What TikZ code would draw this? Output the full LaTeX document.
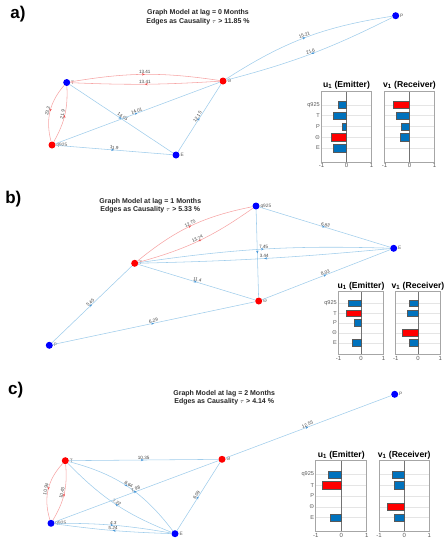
\documentclass[tikz,border=0pt]{standalone}
\usepackage{fontspec}
\setmainfont{Liberation Sans}
\usetikzlibrary{arrows.meta,decorations.markings}
\definecolor{eblue}{RGB}{160,205,235}
\definecolor{ered}{RGB}{246,165,165}
\definecolor{ablue}{RGB}{70,150,215}
\definecolor{ared}{RGB}{235,80,80}
\definecolor{nblue}{RGB}{0,0,255}
\definecolor{nred}{RGB}{255,0,0}
\definecolor{bblue}{RGB}{0,114,189}
\definecolor{bred}{RGB}{255,0,0}
\newcommand\mychart[7]{%
\begin{scope}[shift={(#1,-#2)}, x=#3pt, y=-#4pt]
 \foreach \k in {0,...,4} \draw[gridl] (-1,\k) -- (1,\k);
 \draw[zerol] (0,-#5) -- (0,4+#5);
 \foreach \k/\v/\c in {#7} \filldraw[draw=black!65, fill=\c, line width=0.35pt] (0,\k-0.34) rectangle (\v,\k+0.34);
 \draw[boxl] (-1,-#5) rectangle (1,4+#5);
 \foreach \t in {-1,0,1} \node[ticklab, anchor=north] at (\t,4+#5) {\t};
 \node[ctitle, anchor=south] at (0,-#5) {#6};
\end{scope}}
\newcommand\mycats[3]{%
\begin{scope}[shift={(#1,-#2)}, y=-#3pt]
 \foreach \k/\s in {0/q925,1/T,2/P,3/Θ,4/E} \node[catlab, anchor=east] at (0,\k) {\s};
\end{scope}}
\begin{document}
\begin{tikzpicture}[x=1pt,y=1pt,
  midarr/.style={postaction={decorate}, decoration={markings, mark=at position 0.5 with {\arrow[#1]{Stealth[length=2.8pt,width=2.4pt]}}}},
  be/.style={draw=eblue, line width=0.55pt, midarr=ablue},
  re/.style={draw=ered, line width=0.55pt, midarr=ared},
  elab/.style={font=\fontsize{4.6}{5}\selectfont, text=black!75, inner sep=0.5pt, sloped, above},
  nlab/.style={font=\fontsize{4.8}{5}\selectfont, text=black!65, inner sep=0.6pt},
  bn/.style={circle, fill=nblue, inner sep=0pt, minimum size=7pt},
  rn/.style={circle, fill=nred, inner sep=0pt, minimum size=7pt},
  ttl/.style={font=\bfseries\fontsize{7}{8.6}\selectfont, align=center, text=black!85},
  plab/.style={font=\bfseries\fontsize{17}{18}\selectfont},
  gridl/.style={draw=black!10, line width=0.3pt},
  zerol/.style={draw=black!55, line width=0.4pt},
  boxl/.style={draw=black!35, line width=0.5pt},
  ticklab/.style={font=\fontsize{6}{7}\selectfont, text=black!65, inner sep=1.5pt},
  catlab/.style={font=\fontsize{5.6}{6}\selectfont, text=black!65, inner sep=1.5pt},
  ctitle/.style={font=\bfseries\fontsize{8.6}{9}\selectfont, inner sep=1.5pt}]
\useasboundingbox (0,0) rectangle (445,-550);

% ---------------- panel a ----------------
\node[plab] (la) at (18,-14) {a)};
\node[ttl] (ta) at (198,-17.3) {Graph Model at lag = 0 Months\\Edges as Causality {\normalfont\fontsize{6}{7}\selectfont$\tau$} > 11.85 \%};
\node[bn, label={[nlab]right:T}] (aT) at (66.7,-82.5) {};
\node[rn, label={[nlab]right:Θ}] (aH) at (223,-81) {};
\node[rn, label={[nlab]right:q925}] (aQ) at (52,-145) {};
\node[bn, label={[nlab]right:E}] (aE) at (176,-155) {};
\node[bn, label={[nlab]right:P}] (aP) at (395.7,-15.7) {};
\draw[re] (aT) to[bend left=9] node[elab]{13.41} (aH);
\draw[re] (aH) to[bend left=3] node[elab]{13.41} (aT);
\draw[re] (aT) to[bend right=28] node[elab]{23.2} (aQ);
\draw[re] (aQ) to[bend right=16] node[elab]{21.9} (aT);
\draw[be] (aT) -- node[elab]{14.05} (aE);
\draw[be] (aQ) -- node[elab]{14.01} (aH);
\draw[be] (aQ) -- node[elab]{11.9} (aE);
\draw[be] (aE) -- node[elab]{12.15} (aH);
\draw[be] (aH) to[bend left=12] node[elab]{15.21} (aP);
\draw[be] (aP) to[bend left=6] node[elab]{21.6} (aH);
\mychart{346.5}{104.8}{25}{10.8}{1.3}{u\textsubscript{1} (Emitter)}{0/-0.32/bblue,1/-0.53/bblue,2/-0.16/bblue,3/-0.61/bred,4/-0.52/bblue}
\mychart{409.5}{104.8}{25}{10.8}{1.3}{v\textsubscript{1} (Receiver)}{0/-0.67/bred,1/-0.55/bblue,2/-0.32/bblue,3/-0.39/bblue}
\mycats{321.5}{104.8}{10.8}

% ---------------- panel b ----------------
\node[plab] (lb) at (13.3,-199) {b)};
\node[ttl] (tb) at (150.3,-205.5) {Graph Model at lag = 1 Months\\Edges as Causality {\normalfont\fontsize{6}{7}\selectfont$\tau$} > 5.33 \%};
\node[rn, label={[nlab]right:T}] (bT) at (134.7,-263.3) {};
\node[bn, label={[nlab]right:q925}] (bQ) at (256,-206) {};
\node[bn, label={[nlab]right:E}] (bE) at (393.7,-248.3) {};
\node[rn, label={[nlab]right:Θ}] (bH) at (258.7,-301) {};
\node[bn, label={[nlab]right:P}] (bP) at (49.3,-345.3) {};
\draw[re] (bT) to[bend left=14] node[elab]{12.75} (bQ);
\draw[re] (bQ) to[bend left=10] node[elab]{13.74} (bT);
\draw[be] (bT) to[bend left=5] node[elab]{7.45} (bE);
\draw[be] (bE) to[bend left=2] node[elab]{3.44} (bT);
\draw[be] (bQ) -- (bH);
\draw[be] (bT) -- node[elab]{11.4} (bH);
\draw[be] (bP) -- node[elab]{5.45} (bT);
\draw[be] (bP) -- node[elab]{6.29} (bH);
\draw[be] (bQ) -- node[elab]{6.83} (bE);
\draw[be] (bH) -- node[elab]{8.03} (bE);
\mychart{361}{303.3}{22.5}{9.85}{1.2}{u\textsubscript{1} (Emitter)}{0/-0.59/bblue,1/-0.68/bred,2/-0.31/bblue,4/-0.4/bblue}
\mychart{418}{303.3}{22.3}{9.85}{1.2}{v\textsubscript{1} (Receiver)}{0/-0.39/bblue,1/-0.5/bblue,3/-0.71/bred,4/-0.41/bblue}
\mycats{338.5}{303.3}{9.85}

% ---------------- panel c ----------------
\node[plab] (lc) at (15.7,-390) {c)};
\node[ttl] (tc) at (224.2,-397.7) {Graph Model at lag = 2 Months\\Edges as Causality {\normalfont\fontsize{6}{7}\selectfont$\tau$} > 4.14 \%};
\node[rn, label={[nlab]right:T}] (cT) at (65.3,-460.7) {};
\node[rn, label={[nlab]right:Θ}] (cH) at (222,-459.3) {};
\node[bn, label={[nlab]right:q925}] (cQ) at (51,-523.3) {};
\node[bn, label={[nlab]right:E}] (cE) at (175,-533.7) {};
\node[bn, label={[nlab]right:P}] (cP) at (394.7,-394.3) {};
\draw[be] (cT) -- node[elab]{10.35} (cH);
\draw[re] (cT) to[bend right=30] node[elab]{10.94} (cQ);
\draw[re] (cQ) to[bend right=18] node[elab]{10.43} (cT);
\draw[be] (cQ) to[bend left=5] node[elab]{4.3} (cE);
\draw[be] (cE) to[bend left=3] node[elab]{5.24} (cQ);
\draw[be] (cT) to[bend left=19] node[elab]{8.64} (cE);
\draw[be] (cE) to[bend left=12] node[elab]{7.22} (cT);
\draw[be] (cQ) -- node[elab]{7.98} (cH);
\draw[be] (cE) -- node[elab]{6.09} (cH);
\draw[be] (cH) -- node[elab]{12.55} (cP);
\mychart{341.2}{474.5}{25.5}{10.75}{1.3}{u\textsubscript{1} (Emitter)}{0/-0.51/bblue,1/-0.73/bred,4/-0.43/bblue}
\mychart{404.2}{474.5}{25.2}{10.75}{1.3}{v\textsubscript{1} (Receiver)}{0/-0.49/bblue,1/-0.39/bblue,3/-0.69/bred,4/-0.39/bblue}
\mycats{315.7}{474.5}{10.75}
\end{tikzpicture}
\end{document}
